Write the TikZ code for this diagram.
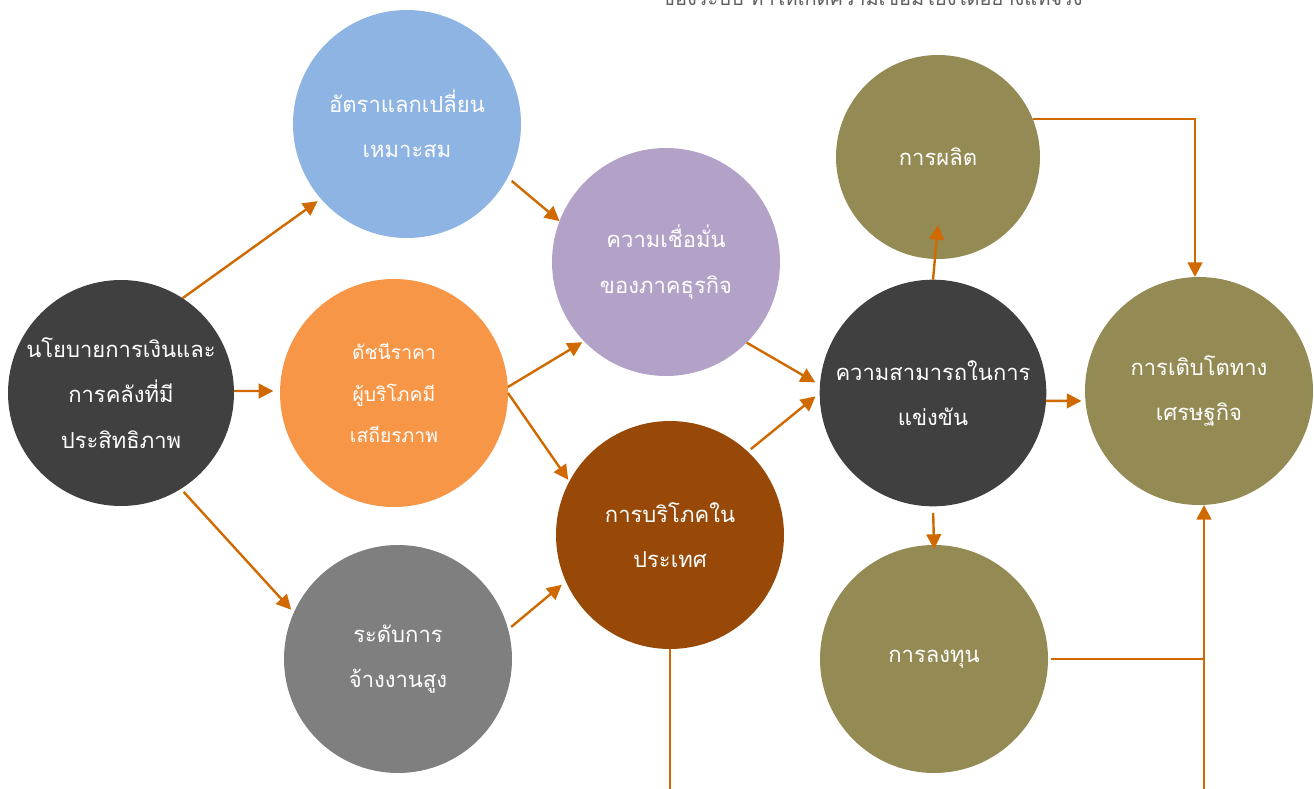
\documentclass[tikz,border=0pt]{standalone}
\usepackage{fontspec}
\newfontfamily\thai[Script=Thai]{Loma}
\usetikzlibrary{arrows.meta,calc}
\definecolor{cdark}{HTML}{404040}
\definecolor{cblue}{HTML}{8EB4E3}
\definecolor{corange}{HTML}{F79646}
\definecolor{cgray}{HTML}{7F7F7F}
\definecolor{cpurple}{HTML}{B2A2C7}
\definecolor{cbrown}{HTML}{984807}
\definecolor{colive}{HTML}{948A54}
\definecolor{carrow}{HTML}{D06A00}
\definecolor{ctitle}{HTML}{606060}
\begin{document}
\begin{tikzpicture}[x=0.75pt,y=-0.75pt,
  bub/.style={circle, inner sep=0pt, outer sep=0pt, minimum size=#1, text=white, align=center,
              font=\thai\fontsize{16.5}{34}\selectfont},
  smallbub/.style={bub=#1, font=\thai\fontsize{14.5}{31}\selectfont},
  arr/.style={draw=carrow, line width=1.8pt, -{Triangle[length=11pt,width=11pt]}},
  ln/.style={draw=carrow, line width=1.5pt}]
\useasboundingbox (0,0) rectangle (1314,789);

\node[anchor=base, font=\thai\fontsize{15}{18}\selectfont, text=ctitle] (title) at (872,5)
  {ของระบบ ทำให้เกิดความเชื่อมโยงได้อย่างแท้จริง};

\node[bub=169.5pt, fill=cdark] (pol) at (121,393) {นโยบายการเงินและ\\การคลังที่มี\\ประสิทธิภาพ};
\node[bub=171pt, fill=cblue] (fx) at (407,124) {อัตราแลกเปลี่ยน\\เหมาะสม};
\node[smallbub=171pt, fill=corange] (cpi) at (394,393) {ดัชนีราคา\\ผู้บริโภคมี\\เสถียรภาพ};
\node[bub=171pt, fill=cgray] (emp) at (398,659) {ระดับการ\\จ้างงานสูง};
\node[bub=171pt, fill=cpurple] (conf) at (666,262) {ความเชื่อมั่น\\ของภาคธุรกิจ};
\node[bub=171pt, fill=cbrown] (cons) at (670,535) {การบริโภคใน\\ประเทศ};
\node[bub=170pt, fill=cdark] (comp) at (933,393) {ความสามารถในการ\\แข่งขัน};
\node[bub=171pt, fill=colive] (grow) at (1199,391) {การเติบโตทาง\\เศรษฐกิจ};
\node[bub=153pt, fill=colive] (prod) at (938,157) {การผลิต};
\node[bub=171pt, fill=colive] (inv) at (934,659) {การลงทุน};

\coordinate (j) at (1204,662);
\coordinate (bot) at (1204,789);
\coordinate (bot2) at (669,789);

\draw[arr, shorten >=3pt] (pol.57) -- (fx.221);
\draw[arr, shorten >=5pt] (pol.1) -- (cpi.179);
\draw[arr, shorten >=3pt, shorten <=3pt] (pol.-58) -- (emp.156);
\draw[arr, shorten <=4pt] (fx.-28) -- (conf.159);
\draw[arr, shorten >=1.5pt] (cpi.3) -- (conf.224);
\draw[arr, shorten >=1.5pt] (cpi.0) -- (cons.152);
\draw[arr, shorten >=4pt, shorten <=3pt] (emp.15) -- (cons.204);
\draw[arr, shorten >=4pt] (conf.-45) -- (comp.176);
\draw[arr, shorten >=4pt, shorten <=3pt] (cons.47) -- (comp.180);
\draw[arr, shorten >=3pt] (comp.-4) -- (grow.185);
\draw[arr] (comp.north) -- ($(prod.south)+(0,-34)$);
\draw[arr, shorten <=5pt, shorten >=-3pt] (comp.south) -- (inv.north);
\draw[arr] (prod.22) -| ($(grow.north)+(-4,0)$);
\draw[ln, shorten <=2pt] (inv.east) -- (inv.east -| j);
\draw[arr] (bot) -- (bot |- grow.south);
\draw[ln] (cons.south) -- (cons.south |- bot2);
\end{tikzpicture}
\end{document}
